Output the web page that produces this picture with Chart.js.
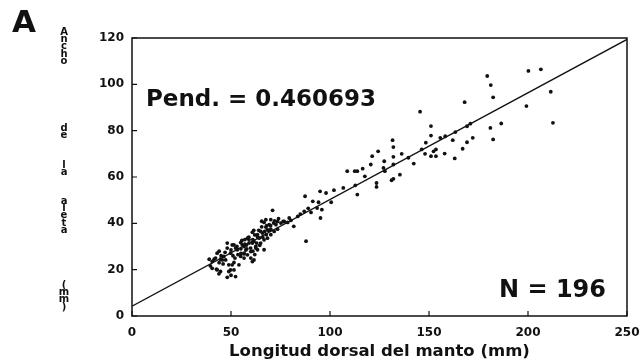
<!DOCTYPE html>
<html>
<head>
<meta charset="utf-8">
<script src="https://cdn.jsdelivr.net/npm/chart.js@4"></script>
<style>
  html, body { margin: 0; padding: 0; background: #fff; }
  canvas { display: block; }
</style>
</head>
<body>
<canvas id="chart" width="644" height="363"></canvas>
<script>
// longitud dorsal del manto (mm) / ancho de la aleta (mm)
const lengthMm = [
  179.4, 181.2, 182.4, 200.2, 206.5, 211.5, 199.2, 212.6, 181, 182.4,
  186.5, 168, 145.5, 151, 151, 155.7, 158.2, 162, 163.3, 169.2,
  172.1, 170.9, 167, 163, 157.9, 153.5, 151, 148, 152.3, 146.3,
  148.4, 142.3, 139.6, 136.2, 132, 132, 131.6, 132, 135.3, 132,
  131.1, 127.4, 127, 169.2, 153.5,
  124.3, 121.3, 120.6, 116.5, 117.6, 113.8, 108.7, 123.5, 123.5, 127.7,
  113.8, 112.8, 106.7, 102, 98, 95, 91.3, 87.4, 94.2, 93.5,
  95.9, 87, 90.4, 83.7, 95.2, 100.6, 71, 79.4,
  112.5, 76.9, 81.7, 73.5, 87.9,
  80.3, 78.6, 75.2, 70.1, 66.7, 72.7, 71.8, 68.4, 65.9, 63.4,
  61.6, 60.8, 59.1, 56.6, 54.9, 53.2, 49.8, 48.1, 48.1, 51.5,
  43, 45.6, 40.5, 39.6, 42.7, 43.9, 48.1, 52.3, 49.8, 54,
  54.9, 58.3, 61.6, 66.7, 63.4, 47.3, 48.9, 51.5, 56.6, 59.9,
  65, 66.7, 68.4, 58.3, 62.5, 70.1, 73.5, 76.3, 85, 89,
  71.5, 69.3, 65.5, 67.6, 70.1, 65, 61.5, 63.4, 67.8, 64.2,
  59.1, 55.5, 55.7, 50.6, 52.3, 57.8, 60.8, 62.5, 60, 56.6,
  53.5, 44, 46.4, 44.7, 42.2, 56.6, 60, 60.8, 50.6, 39,
  40.5, 43, 44.7, 48.9, 51.5, 50, 67.6,
  45, 47, 50, 51, 53, 55, 57, 57.5, 59, 61,
  62, 63, 64, 65.5, 66, 67, 68, 69, 70, 72,
  74, 46, 44, 41.5, 52, 55, 58, 61, 62, 64.5,
  57
];
const finWidthMm = [
  103.6, 99.7, 94.4, 105.8, 106.5, 96.8, 90.6, 83.4, 81.2, 76.2,
  83.1, 92.3, 88.2, 82, 77.9, 76.9, 77.6, 75.9, 79.4, 75,
  76.9, 83, 72.2, 68, 70.1, 69, 69, 70, 71.1, 71.9,
  74.8, 65.8, 68.3, 70, 68.7, 72.9, 75.9, 65.4, 61, 59.2,
  58.6, 66.8, 63.9, 81.9, 71.9,
  71.1, 69, 65.4, 63.6, 60.3, 62.5, 62.5, 57.4, 55.7, 62.5,
  52.4, 56.4, 55.3, 54.3, 53.1, 53.8, 49.5, 51.7, 49.1, 46.6,
  45.9, 45.2, 44.7, 43, 42.3, 49.1, 45.6, 42.3,
  62.5, 40.8, 38.7, 40.8, 32.3,
  41.3, 40.4, 40.1, 41.6, 40.4, 39.4, 36.5, 37.2, 35.8, 34.1,
  32.2, 36.1, 31.5, 30, 31.7, 28.6, 27.1, 31.5, 29.3, 30.7,
  27.1, 24.2, 23.5, 21.6, 20.2, 18.2, 16.7, 17, 19.9, 22.1,
  25.7, 26.4, 24.2, 28.6, 28.6, 24.2, 22.1, 23.1, 26.8, 29.3,
  31.5, 32.9, 33.6, 33.6, 30, 35.1, 37.5, 40.8, 44, 46.5,
  40.1, 39.4, 40.9, 38.4, 37.5, 36.5, 37, 35.1, 35.1, 33.6,
  32.9, 32.6, 30.7, 30.7, 29.3, 30.6, 31.5, 29.3, 27.8, 27.1,
  26.5, 28, 25.7, 24.5, 25, 25, 25, 23.5, 22.1, 24.5,
  20.6, 19.9, 19.2, 19.2, 19.9, 17.6, 41.6,
  26, 27.5, 28.5, 26, 30, 29, 31, 28.5, 34, 33,
  35, 31.5, 37, 38.5, 34, 36.5, 39, 37, 39, 41,
  42, 22.5, 23, 24.5, 25, 27, 29, 28, 26.5, 30.5,
  33
];
// recta ajustada (pendiente 0.460693)
const fitX = [0, 250];
const fitY = [4.2, 119.4];

const xTicks = [0, 50, 100, 150, 200, 250];
const yTicks = [0, 20, 40, 60, 80, 100, 120];

const panelLabel = "A";
const slopeLabel = "Pend. = 0.460693";
const countLabel = "N = 196";
const xTitle = "Longitud dorsal del manto (mm)";
const yTitleWords = ["Ancho", "de", "la", "aleta", "(mm)"];

const INK = "#111";
const FONT = "'DejaVu Sans', sans-serif";

// marco, marcas hacia dentro y textos
const framePlugin = {
  id: "frame",
  afterDraw(chart) {
    const ctx = chart.ctx;
    const a = chart.chartArea;
    const x = chart.scales.x;
    const y = chart.scales.y;
    ctx.save();
    ctx.strokeStyle = INK;
    ctx.lineWidth = 1.5;
    ctx.strokeRect(a.left, a.top, a.right - a.left, a.bottom - a.top);

    ctx.lineWidth = 1.2;
    ctx.beginPath();
    yTicks.forEach(v => {
      const py = y.getPixelForValue(v);
      ctx.moveTo(a.left, py);
      ctx.lineTo(a.left + 5, py);
    });
    xTicks.forEach(v => {
      const px = x.getPixelForValue(v);
      ctx.moveTo(px, a.bottom);
      ctx.lineTo(px, a.bottom - 5);
    });
    ctx.stroke();

    ctx.fillStyle = INK;
    ctx.textAlign = "left";
    ctx.textBaseline = "alphabetic";
    ctx.font = "bold 31px " + FONT;
    ctx.fillText(panelLabel, 12, 32);

    ctx.font = "bold 23px " + FONT;
    ctx.fillText(slopeLabel, 146, 106);

    ctx.textAlign = "right";
    ctx.font = "bold 24px " + FONT;
    ctx.fillText(countLabel, 606, 297);

    // titulo del eje y, letras apiladas
    const wordTops = [32, 128, 165, 201, 285];
    ctx.textAlign = "center";
    ctx.textBaseline = "middle";
    ctx.font = "bold 10px " + FONT;
    yTitleWords.forEach((w, i) => {
      w.split("").forEach((ch, j) => {
        ctx.fillText(ch, 64, wordTops[i] + j * 7.4);
      });
    });
    ctx.restore();
  }
};

new Chart(document.getElementById("chart"), {
  data: {
    datasets: [
      {
        type: "scatter",
        data: lengthMm.map((v, i) => ({ x: v, y: finWidthMm[i] })),
        pointRadius: 1.9,
        pointBackgroundColor: INK,
        pointBorderWidth: 0
      },
      {
        type: "line",
        data: fitX.map((v, i) => ({ x: v, y: fitY[i] })),
        borderColor: INK,
        borderWidth: 1.3,
        pointRadius: 0,
        fill: false
      }
    ]
  },
  options: {
    responsive: false,
    animation: false,
    layout: { padding: { left: 0, top: 38, right: 0, bottom: 0 } },
    plugins: { legend: { display: false }, tooltip: { enabled: false } },
    scales: {
      x: {
        type: "linear",
        min: 0,
        max: 250,
        afterBuildTicks: s => { s.ticks = xTicks.map(v => ({ value: v })); },
        afterFit: s => { s.height = 47; s.paddingRight = 17; },
        grid: { display: false, drawTicks: false },
        border: { display: false },
        ticks: { padding: 10, color: INK, maxRotation: 0, font: { family: FONT, size: 12, weight: "bold" } },
        title: {
          display: true,
          text: xTitle,
          color: INK,
          font: { family: FONT, size: 16.5, weight: "bold" },
          padding: { top: 0, bottom: 1 }
        }
      },
      y: {
        type: "linear",
        min: 0,
        max: 120,
        afterBuildTicks: s => { s.ticks = yTicks.map(v => ({ value: v })); },
        afterFit: s => { s.width = 132; },
        grid: { display: false, drawTicks: false },
        border: { display: false },
        ticks: { padding: 8, color: INK, font: { family: FONT, size: 12, weight: "bold" } }
      }
    }
  },
  plugins: [framePlugin]
});
</script>
</body>
</html>
